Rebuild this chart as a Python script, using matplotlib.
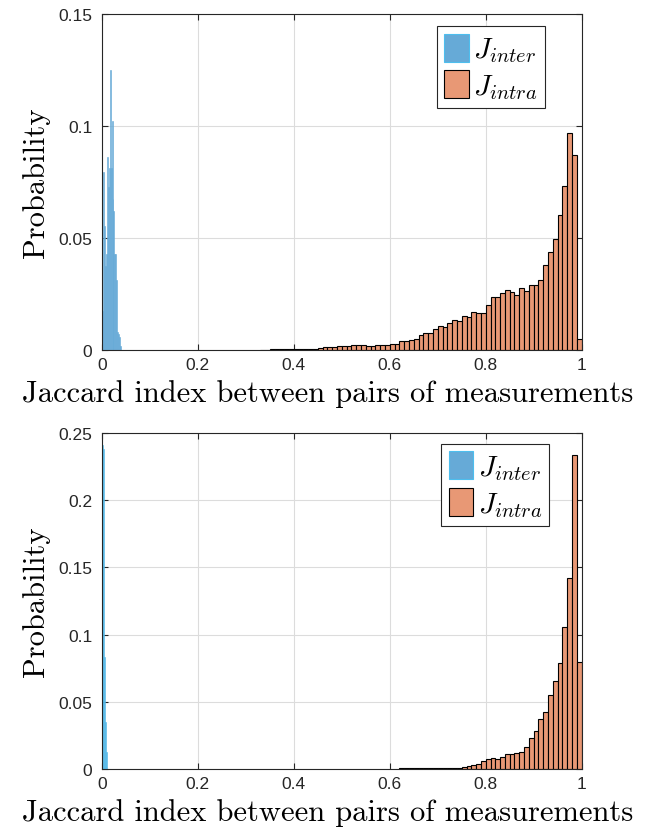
import numpy as np
import matplotlib
matplotlib.use("Agg")
import matplotlib.pyplot as plt
from matplotlib.patches import Patch

plt.rcParams['mathtext.fontset'] = 'cm'

# histogram heights (probability per bin)
inter_width_top = 0.002
inter_top = [0.0175, 0.0795, 0.0554, 0.0376, 0.043, 0.086, 0.0727, 0.081, 0.125, 0.081,
             0.102, 0.0673, 0.062, 0.043, 0.043, 0.031, 0.008, 0.007, 0.006, 0.002]

intra_start_top = 0.33
intra_top = [0.0002, 0.0002, 0.0003, 0.0003, 0.0003,
             0.0004, 0.0004, 0.0004, 0.0004, 0.0003, 0.0003, 0.0003,
             0.0007, 0.0013, 0.0015, 0.0015, 0.0016, 0.0016,
             0.0019, 0.0021, 0.0021, 0.0024, 0.0019, 0.0016, 0.0024, 0.0022, 0.0024, 0.0027,
             0.0027, 0.0039, 0.0039, 0.0043, 0.0047, 0.0068, 0.0076, 0.0076, 0.0095, 0.0108,
             0.0104, 0.0120, 0.0134, 0.0128, 0.0153, 0.0145, 0.0171, 0.0165, 0.0165, 0.0200,
             0.0237, 0.0237, 0.0254, 0.0267, 0.0260, 0.0246, 0.0276, 0.0263, 0.0292, 0.0292,
             0.0313, 0.0378, 0.0439, 0.0494, 0.0602, 0.0732, 0.0969, 0.0870, 0.0049]

inter_width_bot = 0.002
inter_bot = [0.241, 0.238, 0.083, 0.035, 0.0125]

intra_start_bot = 0.62
intra_bot = [0.0005, 0.0005, 0.0005, 0.0005, 0.0005, 0.0005, 0.0005, 0.0005, 0.0005, 0.0005, 0.0005,
             0.0006, 0.0007, 0.0015, 0.0025, 0.0030, 0.0037, 0.0060, 0.0074, 0.0084, 0.0077,
             0.0089, 0.0112, 0.0112, 0.0122, 0.0129, 0.0161, 0.0231, 0.0285, 0.0370, 0.0424,
             0.0553, 0.0652, 0.0788, 0.1060, 0.1420, 0.2340, 0.0798]
intra_width = 0.01

xticks = [0, 0.2, 0.4, 0.6, 0.8, 1]
xticklabels = ['0', '0.2', '0.4', '0.6', '0.8', '1']
yticks_top = [0, 0.05, 0.1, 0.15]
yticklabels_top = ['0', '0.05', '0.1', '0.15']
yticks_bot = [0, 0.05, 0.1, 0.15, 0.2, 0.25]
yticklabels_bot = ['0', '0.05', '0.1', '0.15', '0.2', '0.25']

blue = '#66AAD7'
cyan = '#4DBEEE'
orange = '#E89875'
axcol = '#262626'
xlabel = 'Jaccard index between pairs of measurements'

fig = plt.figure(figsize=(6.52, 8.28), dpi=100)


def panel(rect, inter, w_inter, inter_edge, intra, start_intra, yticks, ylabels, leg_anchor):
    ax = fig.add_axes(rect)
    x_inter = np.arange(len(inter)) * w_inter
    ax.bar(x_inter, inter, width=w_inter, align='edge', color=blue,
           edgecolor=inter_edge, linewidth=0.4, zorder=3)
    x_intra = start_intra + np.arange(len(intra)) * intra_width
    ax.bar(x_intra, intra, width=intra_width, align='edge', color=orange,
           edgecolor='black', linewidth=0.8, zorder=3)
    ax.set_xlim(0, 1)
    ax.set_ylim(yticks[0], yticks[-1])
    ax.set_xticks(xticks)
    ax.set_xticklabels(xticklabels)
    ax.set_yticks(yticks)
    ax.set_yticklabels(ylabels)
    ax.grid(True, color='#dcdcdc', linewidth=0.8, zorder=0)
    ax.tick_params(direction='in', length=4, width=0.8, top=True, right=True,
                   colors=axcol, labelsize=12.5)
    ax.tick_params(axis='y', pad=7)
    ax.tick_params(axis='x', pad=5)
    for lab in ax.get_xticklabels() + ax.get_yticklabels():
        lab.set_family('Liberation Sans')
    for s in ax.spines.values():
        s.set_color(axcol)
        s.set_linewidth(0.8)
        s.set_zorder(4)
    ax.set_xlabel(xlabel, family='cmr10', fontsize=22, color='black')
    ax.xaxis.set_label_coords(0.471, -0.085)
    ax.set_ylabel('Probability', family='cmr10', fontsize=22, labelpad=6, color='black')
    handles = [Patch(facecolor=blue, edgecolor=cyan, linewidth=0.8),
               Patch(facecolor=orange, edgecolor='black', linewidth=0.8)]
    leg = ax.legend(handles, [r'$J_{inter}$', r'$J_{intra}$'], loc='upper right',
                    bbox_to_anchor=leg_anchor, borderaxespad=0, fancybox=False,
                    framealpha=1, edgecolor=axcol, fontsize=21, handlelength=0.85,
                    handleheight=1.1, handletextpad=0.15, borderpad=0.25,
                    labelspacing=0.2)
    leg.get_frame().set_linewidth(0.8)
    return ax


panel([0.1564, 0.5761, 0.7357, 0.4062], inter_top, inter_width_top, blue, intra_top,
      intra_start_top, yticks_top, yticklabels_top, (0.9235, 0.9625))
panel([0.1564, 0.0700, 0.7357, 0.4058], inter_bot, inter_width_bot, cyan, intra_bot,
      intra_start_bot, yticks_bot, yticklabels_bot, (0.9325, 0.967))

fig.savefig('out.png', dpi=100)
